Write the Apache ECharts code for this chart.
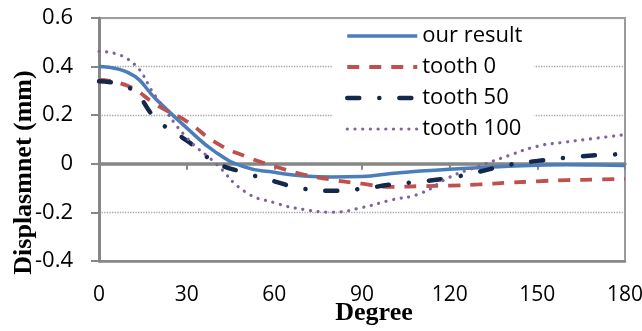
<!DOCTYPE html>
<html>
<head>
<meta charset="utf-8">
<script src="https://cdn.jsdelivr.net/npm/echarts@6/dist/echarts.min.js"></script>
<style>
  html, body { margin: 0; padding: 0; background: #fff; }
  #chart { width: 642px; height: 331px; }
</style>
</head>
<body>
<div id="chart"></div>
<script>
// angle (deg) and displacement (mm)
const degrees = [0, 10, 20, 30, 40, 50, 60, 70, 80, 90, 100, 110, 120, 130, 140, 150, 160, 170, 180]
const ourResult = [0.40, 0.375, 0.26, 0.148, 0.047, -0.014, -0.035, -0.05, -0.054, -0.052, -0.04, -0.03, -0.022, -0.016, -0.01, -0.006, -0.004, -0.005, -0.007]
const tooth0 = [0.345, 0.32, 0.24, 0.175, 0.087, 0.031, -0.01, -0.044, -0.066, -0.082, -0.095, -0.092, -0.09, -0.085, -0.078, -0.072, -0.067, -0.065, -0.062]
const tooth50 = [0.34, 0.315, 0.18, 0.096, 0.006, -0.037, -0.072, -0.103, -0.111, -0.103, -0.085, -0.073, -0.058, -0.033, -0.005, 0.012, 0.025, 0.035, 0.04]
const tooth100 = [0.463, 0.43, 0.267, 0.108, 0.001, -0.115, -0.16, -0.188, -0.199, -0.18, -0.149, -0.122, -0.055, -0.01, 0.033, 0.072, 0.09, 0.105, 0.12]

const seriesNames = ['our result', 'tooth 0', 'tooth 50', 'tooth 100']

const pairs = (ys) => degrees.map((d, i) => [d, ys[i]])

const axisGray = '#878787'

const styles = [
  { color: '#4a7ebb', width: 3.5 },
  { color: '#c0504d', width: 3.8, type: [12, 10] },
  { color: '#13284a', width: 4.5, type: [12, 20, 0.1, 20], cap: 'round' },
  { color: '#8064a2', width: 3.2, type: [0.1, 7.6], cap: 'round' }
]

function lineSeries(name, ys, lineStyle) {
  return {
    name,
    type: 'line',
    data: pairs(ys),
    smooth: true,
    symbol: 'none',
    lineStyle
  }
}

const chart = echarts.init(document.getElementById('chart'))

chart.setOption({
  animation: false,
  backgroundColor: '#fff',
  grid: {
    left: 99,
    right: 17,
    top: 18,
    bottom: 70,
    outerBoundsMode: 'none',
    show: true,
    borderColor: '#9a9a9a',
    borderWidth: 2,
    backgroundColor: '#fff'
  },
  legend: {
    orient: 'vertical',
    left: 333,
    top: 21,
    data: seriesNames.map((name, i) => ({ name, lineStyle: styles[i] })),
    backgroundColor: '#fff',
    padding: [4, 12, 4, 12],
    itemWidth: 70,
    itemHeight: 14,
    itemGap: 9,
    selectedMode: false,
    itemStyle: { opacity: 0 },
    textStyle: { fontFamily: 'Open Sans', fontSize: 22, color: '#000', lineHeight: 22 }
  },
  xAxis: [
    {
      type: 'value',
      min: 0,
      max: 180,
      interval: 30,
      position: 'bottom',
      axisLine: { onZero: false, lineStyle: { color: axisGray, width: 2.5 } },
      axisTick: { show: false },
      splitLine: { show: false },
      axisLabel: { fontFamily: 'Open Sans', fontSize: 21, color: '#000', margin: 24 },
      name: 'Degree',
      nameLocation: 'middle',
      nameGap: 39,
      nameMoveOverlap: false,
      nameTextStyle: {
        fontFamily: 'Liberation Serif',
        fontWeight: 'bold',
        fontSize: 26,
        color: '#000',
        padding: [0, 0, 0, 24]
      }
    },
    {
      // the zero line with its tick marks
      type: 'value',
      min: 0,
      max: 180,
      interval: 30,
      position: 'top',
      axisLine: { onZero: true, onZeroAxisIndex: 0, lineStyle: { color: axisGray, width: 3.5 } },
      axisTick: { show: true, inside: true, length: 6, lineStyle: { color: axisGray, width: 2 } },
      axisLabel: { show: false },
      splitLine: { show: false }
    }
  ],
  yAxis: {
    type: 'value',
    min: -0.4,
    max: 0.6,
    interval: 0.2,
    axisLine: { show: true, onZero: false, lineStyle: { color: axisGray, width: 3 } },
    axisTick: { show: true, length: 8, lineStyle: { color: axisGray, width: 2 } },
    splitLine: { show: true, lineStyle: { color: '#a6a6a6', type: 'dotted', width: 1.3 } },
    axisLabel: {
      fontFamily: 'Open Sans',
      fontSize: 22,
      color: '#000',
      margin: 26,
      formatter: (v) => String(Number(v.toFixed(1)))
    },
    name: 'Displasmnet (mm)',
    nameLocation: 'middle',
    nameGap: 62,
    nameMoveOverlap: false,
    nameTextStyle: {
      fontFamily: 'Liberation Serif',
      fontWeight: 'bold',
      fontSize: 26,
      color: '#000',
      padding: [0, 66, 0, 0]
    }
  },
  series: seriesNames.map((name, i) =>
    lineSeries(name, [ourResult, tooth0, tooth50, tooth100][i], styles[i])
  )
})
</script>
</body>
</html>
